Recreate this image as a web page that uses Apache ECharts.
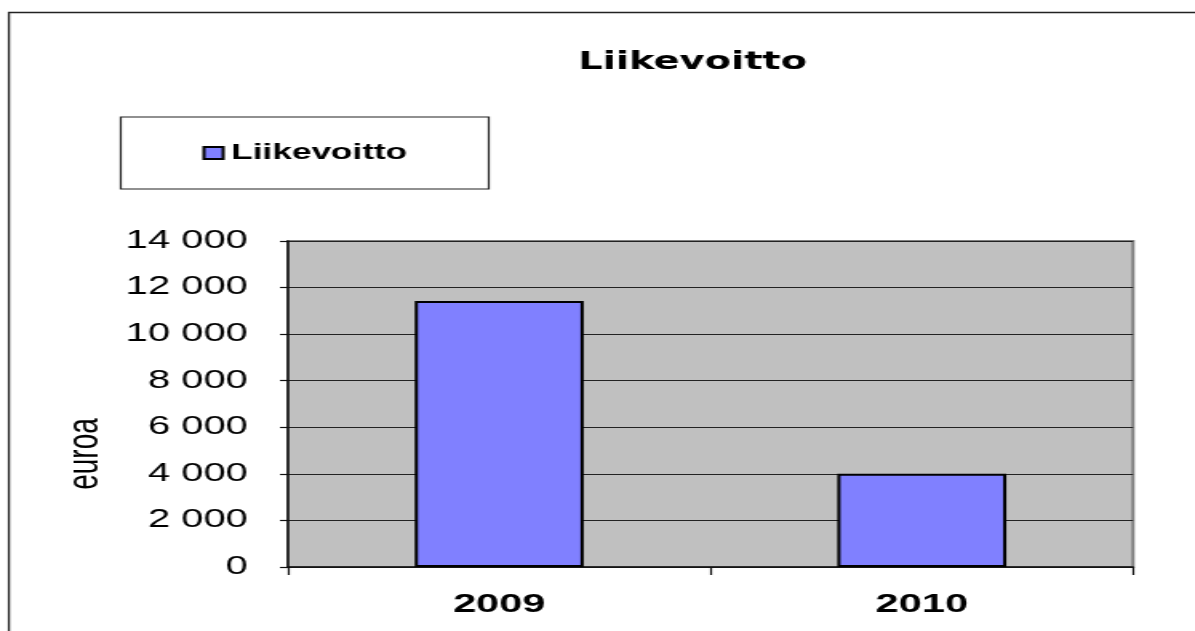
<!DOCTYPE html>
<html>
<head>
<meta charset="utf-8">
<script src="https://cdn.jsdelivr.net/npm/echarts@6/dist/echarts.min.js"></script>
<style>
  html, body { margin: 0; padding: 0; background: #fff; overflow: hidden; width: 1195px; height: 631px; }
  #chart { width: 747px; height: 631px; transform: scaleX(1.5997); transform-origin: 0 0; }
</style>
</head>
<body>
<div id="chart"></div>
<script>
const titleText = 'Liikevoitto';
const seriesName = 'Liikevoitto';
const yAxisName = 'euroa';
const categories = ['2009', '2010'];
const values = [11420, 4000];
const yMin = 0;
const yMax = 14000;
const yStep = 2000;

function fmt(v) {
  return String(v).replace(/\B(?=(\d{3})+(?!\d))/g, ' ');
}

const chart = echarts.init(document.getElementById('chart'), null, { renderer: 'canvas' });
chart.setOption({
  animation: false,
  backgroundColor: '#ffffff',
  title: {
    text: titleText,
    left: 428,
    top: 46,
    textAlign: 'center',
    textStyle: { fontFamily: 'DejaVu Sans', fontWeight: 'bold', fontSize: 24, color: '#000' }
  },
  legend: {
    left: 75.5,
    top: 117,
    orient: 'horizontal',
    padding: [25, 51, 25, 51],
    borderColor: '#222',
    borderWidth: 1.2,
    itemWidth: 12,
    itemHeight: 12,
    icon: 'rect',
    textStyle: { fontFamily: 'Liberation Sans, Arial', fontWeight: 'bold', fontSize: 22, color: '#000' },
    data: [seriesName]
  },
  grid: {
    left: 180,
    right: 38.7,
    top: 241,
    bottom: 64,
    show: true,
    backgroundColor: '#c0c0c0',
    borderColor: '#808080',
    borderWidth: 2,
    containLabel: false
  },
  xAxis: {
    type: 'category',
    data: categories,
    boundaryGap: true,
    axisLine: { show: true, lineStyle: { color: '#111', width: 1.5 } },
    axisTick: { show: true, inside: false, length: 8, alignWithLabel: false, lineStyle: { color: '#111', width: 1.2 } },
    axisLabel: { margin: 25, fontFamily: 'Liberation Sans, Arial', fontWeight: 'bold', fontSize: 26, color: '#000' },
    splitLine: { show: false }
  },
  yAxis: {
    type: 'value',
    min: yMin,
    max: yMax,
    interval: yStep,
    name: yAxisName,
    nameLocation: 'middle',
    nameRotate: 90,
    nameGap: 113,
    nameTextStyle: { fontFamily: 'Liberation Sans, Arial', fontSize: 28, color: '#000', padding: [0, 100, 0, 0] },
    axisLine: { show: true, lineStyle: { color: '#111', width: 1.5 } },
    axisTick: { show: true, inside: false, length: 5, lineStyle: { color: '#111', width: 1.2 } },
    axisLabel: { margin: 25, fontFamily: 'Liberation Sans, Arial', fontSize: 25, color: '#000', formatter: fmt },
    splitLine: { show: true, lineStyle: { color: '#222', width: 1.2 } }
  },
  graphic: [{
    type: 'rect',
    silent: true,
    z: -1,
    shape: { x: 5.6, y: 12.5, width: 900, height: 800 },
    style: { fill: 'none', stroke: '#222', lineWidth: 1.3 }
  }],
  series: [{
    name: seriesName,
    type: 'bar',
    data: values,
    barWidth: '40%',
    itemStyle: { color: '#8080ff', borderColor: '#000', borderWidth: 2 },
    emphasis: { disabled: true }
  }]
});
</script>
</body>
</html>
